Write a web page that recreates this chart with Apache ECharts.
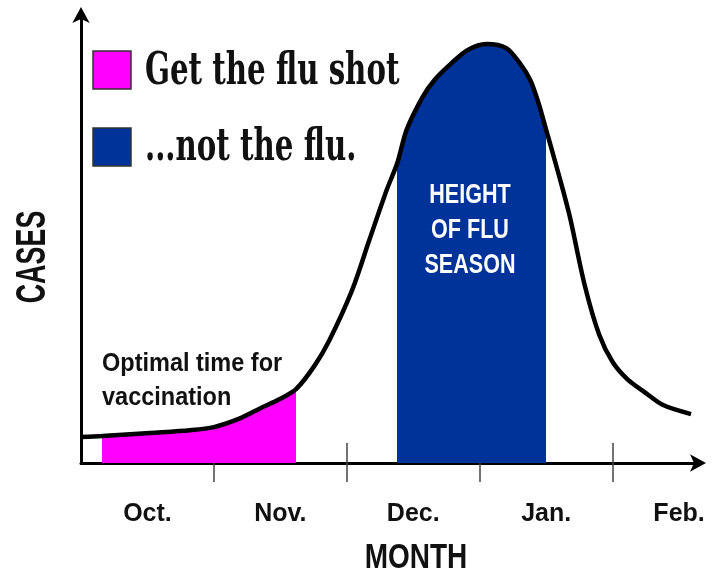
<!DOCTYPE html>
<html>
<head>
<meta charset="utf-8">
<style>
  html, body { margin: 0; padding: 0; background: #fff; }
  #chart { width: 717px; height: 576px; }
</style>
<script src="https://cdn.jsdelivr.net/npm/echarts@6/dist/echarts.min.js"></script>
</head>
<body>
<div id="chart"></div>
<script>
// x is counted in months from the start of October
const months = ["Oct.", "Nov.", "Dec.", "Jan.", "Feb."];
const monthTicks = [1, 2, 3, 4];
const monthLabelAt = [0.5, 1.5, 2.5, 3.5, 4.5];

// flu cases curve, relative scale 0..100
const curveX = [0, 0.16, 0.52, 0.82, 1.0, 1.2, 1.35, 1.5, 1.62, 1.76, 1.87, 2.04, 2.17, 2.3, 2.38,
  2.45, 2.57, 2.66, 2.79, 2.91, 3.05, 3.2, 3.3, 3.38, 3.44, 3.5, 3.56, 3.62, 3.68, 3.79, 3.9,
  4.0, 4.11, 4.24, 4.38, 4.59];
const curveY = [5.8, 6.0, 6.7, 7.3, 8.0, 10.0, 12.2, 14.3, 16.5, 21.8, 27.4, 38.5, 49.7, 60.8, 66.8,
  74.2, 81.5, 85.3, 89.1, 92.0, 93.3, 92.4, 89.1, 85.3, 80.4, 74.2, 67.9, 61.5, 54.6, 39.6, 28.5,
  22.5, 18.7, 15.8, 12.9, 10.9];

const vaccinationWindow = [0.16, 1.62];
const peakSeason = [2.38, 3.5];

const legendNames = ["Get the flu shot", "...not the flu."];
const legendColors = ["#ff00ff", "#003399"];

const sansBold = "'Liberation Sans', Arial, sans-serif";
const curve = curveX.map((x, i) => [x, curveY[i]]);

const chart = echarts.init(document.getElementById("chart"));

const baseX = {
  type: "value",
  min: 0,
  max: 4.65,
  splitLine: { show: false },
};

const arrowLine = {
  lineStyle: { color: "#000", width: 3 },
  symbol: ["none", "arrow"],
  symbolSize: [13, 16],
  symbolOffset: [0, 7],
};

const option = {
  animation: false,
  backgroundColor: "#fff",
  grid: { left: 81, right: 18, top: 14, bottom: 113 },
  xAxis: [
    Object.assign({}, baseX, {
      position: "bottom",
      axisLine: arrowLine,
      axisTick: {
        customValues: monthTicks,
        length: 19,
        lineStyle: { color: "#444", width: 1.5 },
      },
      axisLabel: {
        customValues: monthLabelAt,
        formatter: (v) => months[Math.floor(v)],
        margin: 39,
        fontFamily: sansBold,
        fontWeight: "bold",
        fontSize: 25,
        color: "#111",
      },
    }),
    Object.assign({}, baseX, {
      position: "bottom",
      axisLine: { show: false },
      axisTick: {
        customValues: monthTicks,
        inside: true,
        length: 20,
        lineStyle: { color: "#444", width: 1.5 },
      },
      axisLabel: { show: false },
    }),
  ],
  yAxis: {
    type: "value",
    min: 0,
    max: 100,
    splitLine: { show: false },
    axisTick: { show: false },
    axisLabel: { show: false },
    axisLine: Object.assign({ show: true }, arrowLine),
  },
  visualMap: {
    show: false,
    type: "piecewise",
    seriesIndex: 0,
    dimension: 0,
    pieces: [
      { gte: vaccinationWindow[0], lte: vaccinationWindow[1], color: legendColors[0] },
      { gte: peakSeason[0], lte: peakSeason[1], color: legendColors[1] },
    ],
    outOfRange: { color: "rgba(255,255,255,0)" },
  },
  series: [
    {
      name: "fill",
      type: "line",
      data: curve,
      smooth: 0.3,
      symbol: "none",
      lineStyle: { width: 0 },
      areaStyle: { opacity: 1 },
      z: 1,
    },
    {
      name: "cases",
      type: "line",
      data: curve,
      smooth: 0.3,
      symbol: "none",
      lineStyle: { color: "#000", width: 4.5 },
      z: 3,
    },
  ],
  graphic: [
    // legend
    { type: "rect", shape: { x: 93, y: 51, width: 38, height: 38 },
      style: { fill: legendColors[0], stroke: "#333", lineWidth: 1.5 } },
    { type: "rect", shape: { x: 93, y: 128, width: 38, height: 38 },
      style: { fill: legendColors[1], stroke: "#333", lineWidth: 1.5 } },
    { type: "text", x: 145, y: 73, scaleX: 0.665,
      style: { text: legendNames[0], font: "bold 44px 'DejaVu Serif'", fill: "#111",
        textAlign: "left", textVerticalAlign: "middle" } },
    { type: "text", x: 145, y: 149, scaleX: 0.665,
      style: { text: legendNames[1], font: "bold 44px 'DejaVu Serif'", fill: "#111",
        textAlign: "left", textVerticalAlign: "middle" } },
    // axis titles
    { type: "text", x: 416, y: 558, scaleX: 0.8,
      style: { text: "MONTH", font: "bold 35px " + sansBold, fill: "#111",
        textAlign: "center", textVerticalAlign: "middle" } },
    { type: "text", x: 33, y: 257, rotation: Math.PI / 2, scaleX: 0.64,
      style: { text: "CASES", font: "bold 42px " + sansBold, fill: "#111",
        textAlign: "center", textVerticalAlign: "middle" } },
    // annotations
    { type: "text", x: 102, y: 381, scaleX: 0.94, z: 10,
      style: { text: "Optimal time for\nvaccination", font: "bold 25px " + sansBold,
        lineHeight: 34, fill: "#111", textAlign: "left", textVerticalAlign: "middle" } },
    { type: "text", x: 470, y: 230, scaleX: 0.77, z: 10,
      style: { text: "HEIGHT\nOF FLU\nSEASON", font: "bold 28px " + sansBold,
        lineHeight: 35, fill: "#fff", textAlign: "center", textVerticalAlign: "middle" } },
  ],
};

chart.setOption(option);
</script>
</body>
</html>
